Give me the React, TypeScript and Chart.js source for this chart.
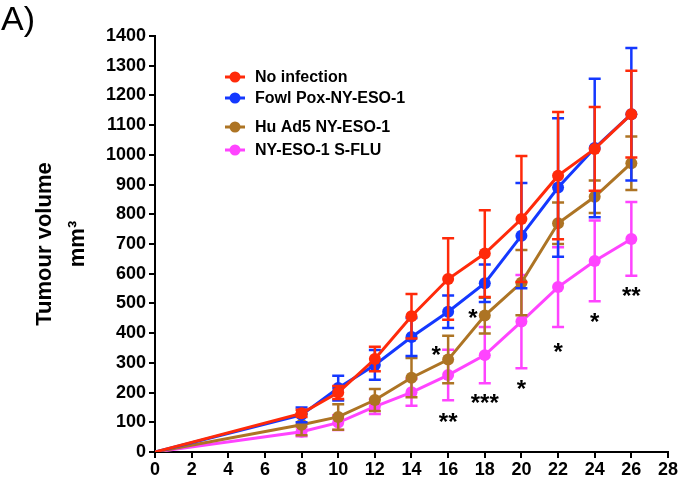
import React, { useEffect, useRef } from 'react';
import { Chart, registerables } from 'chart.js';

Chart.register(...registerables);

const FONT = '"Liberation Sans", Arial, Helvetica, sans-serif';

// Days after challenge
const days = [0, 8, 10, 12, 14, 16, 18, 20, 22, 24, 26];

// Mean tumour volume (mm3) and SEM per group
const noInfection = [0, 130, 200, 313, 457, 582, 668, 784, 930, 1020, 1137];
const noInfectionErr = [0, 12, 22, 41, 75, 137, 146, 212, 214, 141, 146];

const fowlPox = [0, 125, 215, 293, 387, 472, 568, 728, 890, 1023, 1137];
const fowlPoxErr = [0, 25, 42, 50, 64, 55, 63, 177, 233, 233, 223];

const huAd5 = [0, 92, 118, 175, 250, 311, 459, 570, 770, 859, 972];
const huAd5Err = [0, 36, 43, 37, 66, 80, 60, 110, 70, 55, 90];

const sFlu = [0, 68, 99, 153, 201, 259, 326, 439, 555, 643, 717];
const sFluErr = [0, 15, 25, 25, 45, 85, 95, 157, 134, 136, 124];

const seriesNames = ['No infection', 'Fowl Pox-NY-ESO-1', 'Hu Ad5 NY-ESO-1', 'NY-ESO-1 S-FLU'];
const seriesColors = ['#ff2a0a', '#1438ff', '#ad7424', '#ff44ff'];
const seriesValues = [noInfection, fowlPox, huAd5, sFlu];
const seriesErrors = [noInfectionErr, fowlPoxErr, huAd5Err, sFluErr];

// Significance markers (day, tumour volume where the marker sits)
const starLabels = ['*', '**', '*', '***', '*', '*', '*', '**'];
const starDays = [15.35, 16, 17.35, 18, 20, 22, 24, 26];
const starValues = [345, 120, 470, 185, 232, 357, 458, 545];

const yTicks = { min: 0, max: 1400, step: 100 };
const xTicks = { min: 0, max: 28, step: 2 };

const errorBarPlugin = {
  id: 'errorBars',
  beforeDatasetDraw(chart: any, args: any) {
    const ds = chart.data.datasets[args.index];
    const errs: number[] = ds.errors || [];
    const meta = args.meta;
    const yScale = chart.scales.y;
    const ctx = chart.ctx;
    ctx.save();
    ctx.strokeStyle = ds.borderColor;
    ctx.lineWidth = 2.5;
    meta.data.forEach((pt: any, i: number) => {
      const e = errs[i];
      if (!e) return;
      const v = ds.data[i].y;
      const x = pt.x;
      const yTop = yScale.getPixelForValue(v + e);
      const yBot = yScale.getPixelForValue(v - e);
      ctx.beginPath();
      ctx.moveTo(x, yTop);
      ctx.lineTo(x, yBot);
      ctx.moveTo(x - 6, yTop);
      ctx.lineTo(x + 6, yTop);
      ctx.moveTo(x - 6, yBot);
      ctx.lineTo(x + 6, yBot);
      ctx.stroke();
    });
    ctx.restore();
  },
};

const annotationPlugin = {
  id: 'annotations',
  afterDraw(chart: any) {
    const ctx = chart.ctx;
    const xs = chart.scales.x;
    const ys = chart.scales.y;
    ctx.save();
    // stars
    const sz = 24;
    ctx.fillStyle = '#000';
    ctx.font = `bold ${sz}px ${FONT}`;
    ctx.textAlign = 'center';
    ctx.textBaseline = 'alphabetic';
    starLabels.forEach((s, i) => {
      const x = xs.getPixelForValue(starDays[i]);
      const y = ys.getPixelForValue(starValues[i]);
      ctx.fillText(s, x, y + 0.57 * sz);
    });
    // legend
    const rows = [77, 98, 127, 150];
    ctx.font = `bold 16px ${FONT}`;
    ctx.textAlign = 'left';
    ctx.textBaseline = 'middle';
    seriesNames.forEach((name, i) => {
      const y = rows[i];
      ctx.strokeStyle = seriesColors[i];
      ctx.lineWidth = 3;
      ctx.beginPath();
      ctx.moveTo(225, y);
      ctx.lineTo(245, y);
      ctx.stroke();
      ctx.fillStyle = seriesColors[i];
      ctx.beginPath();
      ctx.arc(235, y, 5.5, 0, Math.PI * 2);
      ctx.fill();
      ctx.fillStyle = '#000';
      ctx.fillText(name, 255, y + 1);
    });
    // panel label
    ctx.font = `34px ${FONT}`;
    ctx.textBaseline = 'top';
    ctx.fillText('A)', 1, 4);
    ctx.restore();
  },
};

export default function App() {
  const ref = useRef<HTMLCanvasElement | null>(null);

  useEffect(() => {
    if (!ref.current) return;
    const datasets = seriesNames.map((name, s) => ({
      label: name,
      data: days.map((d, i) => ({ x: d, y: seriesValues[s][i] })),
      errors: seriesErrors[s],
      borderColor: seriesColors[s],
      backgroundColor: seriesColors[s],
      pointBackgroundColor: seriesColors[s],
      pointBorderWidth: 0,
      pointRadius: days.map((d, i) => (i === 0 ? 0 : 6)),
      borderWidth: 3,
      tension: 0,
      fill: false,
    }));

    const tickFont = { family: FONT, size: 18, weight: 'bold' as const };

    const chart = new Chart(ref.current, {
      type: 'line',
      data: { datasets: datasets as any },
      options: {
        animation: false,
        responsive: false,
        maintainAspectRatio: false,
        layout: { padding: { left: 0, top: 36, right: 10, bottom: 0 } },
        plugins: {
          legend: { display: false },
          tooltip: { enabled: false },
        },
        scales: {
          x: {
            type: 'linear',
            min: xTicks.min,
            max: xTicks.max,
            afterFit: (scale: any) => {
              scale.height = 36;
            },
            grid: { drawOnChartArea: false, drawTicks: true, tickLength: 6, color: '#000', lineWidth: 2 },
            border: { display: true, color: '#000', width: 2 },
            ticks: {
              stepSize: xTicks.step,
              autoSkip: false,
              maxRotation: 0,
              color: '#000',
              font: tickFont,
              padding: 1,
              callback: (v: any) => String(v),
            },
          },
          y: {
            type: 'linear',
            min: yTicks.min,
            max: yTicks.max,
            afterFit: (scale: any) => {
              scale.width = 155;
            },
            grid: { drawOnChartArea: false, drawTicks: true, tickLength: 6, color: '#000', lineWidth: 2 },
            border: { display: true, color: '#000', width: 2 },
            ticks: {
              stepSize: yTicks.step,
              autoSkip: false,
              color: '#000',
              font: tickFont,
              padding: 3,
              callback: (v: any) => String(v),
            },
            title: {
              display: true,
              text: ['Tumour volume', 'mm³'],
              color: '#000',
              font: { family: FONT, size: 22, weight: 'bold', lineHeight: 1.5 },
              padding: { top: 28, bottom: 0 },
            },
          },
        },
      },
      plugins: [errorBarPlugin, annotationPlugin],
    });
    return () => chart.destroy();
  }, []);

  return (
    <div style={{ position: 'fixed', left: 0, top: 0, width: 679, height: 488, background: '#fff' }}>
      <canvas ref={ref} width={679} height={488} />
    </div>
  );
}
